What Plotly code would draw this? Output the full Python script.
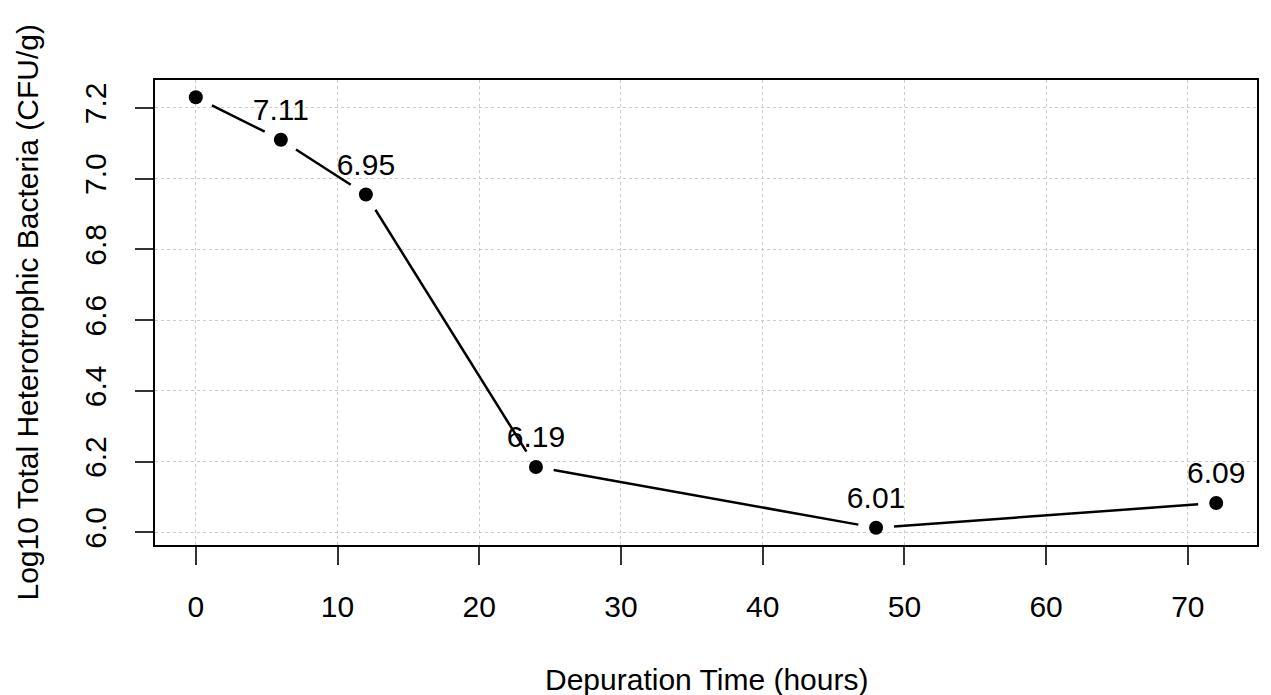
import plotly.graph_objects as go

# ---- data ----
hours = [0, 6, 12, 24, 48, 72]
log_cfu = [7.23, 7.11, 6.955, 6.185, 6.013, 6.083]
labels = ["7.23", "7.11", "6.95", "6.19", "6.01", "6.09"]
x_ticks = [0, 10, 20, 30, 40, 50, 60, 70]
y_ticks = [6.0, 6.2, 6.4, 6.6, 6.8, 7.0, 7.2]

# ---- layout geometry (page body has an 8px margin) ----
OFF = 8
W, H = 1271 - 2 * OFF, 695 - OFF
PL, PR, PT, PB = 155, 1257, 80, 545          # plot box in page pixels
ML, MR, MT, MB = PL - OFF, W - (PR - OFF), PT - OFF, H - (PB - OFF)
pw, ph = PR - PL, PB - PT

# R-style 4% axis extension
def ext(lo, hi):
    d = (hi - lo) * 0.04
    return [lo - d, hi + d]

xr = ext(min(hours), max(hours))
yr = ext(min(log_cfu), max(log_cfu))
sx = pw / (xr[1] - xr[0])
sy = ph / (yr[1] - yr[0])

# type="b" style: line segments with gaps around points
gap = 18
lx, ly = [], []
for i in range(len(hours) - 1):
    x0, y0, x1, y1 = hours[i], log_cfu[i], hours[i + 1], log_cfu[i + 1]
    dxp, dyp = (x1 - x0) * sx, (y1 - y0) * sy
    L = (dxp ** 2 + dyp ** 2) ** 0.5
    if L <= 2 * gap:
        continue
    f = gap / L
    lx += [x0 + (x1 - x0) * f, x1 - (x1 - x0) * f, None]
    ly += [y0 + (y1 - y0) * f, y1 - (y1 - y0) * f, None]

font = dict(family="Liberation Sans, Arial, sans-serif", size=30, color="black")

fig = go.Figure()
fig.add_trace(go.Scatter(x=lx, y=ly, mode="lines",
                         line=dict(color="black", width=2.5),
                         hoverinfo="skip", showlegend=False))
fig.add_trace(go.Scatter(x=hours, y=log_cfu, mode="markers",
                         marker=dict(color="black", size=14),
                         showlegend=False, cliponaxis=False))
fig.add_trace(go.Scatter(x=hours, y=log_cfu, mode="markers+text", text=labels,
                         marker=dict(size=18, color="rgba(0,0,0,0)"),
                         textposition="top center", textfont=font,
                         cliponaxis=True, showlegend=False, hoverinfo="skip"))

axis_common = dict(
    showline=True, linecolor="black", linewidth=1.8, mirror=True,
    ticks="outside", ticklen=18, tickwidth=1.8, tickcolor="#333333",
    showgrid=True, gridcolor="#cccccc", griddash="3px,3px", gridwidth=1,
    zeroline=False, tickfont=font,
)

fig.update_xaxes(range=xr, tickvals=x_ticks, ticklabelstandoff=16, **axis_common)
fig.update_yaxes(range=yr, tickvals=y_ticks, ticktext=[f"{v:.1f}" for v in y_ticks],
                 tickangle=-90, ticklabelstandoff=17, **axis_common)

fig.add_annotation(text="Depuration Time (hours)", xref="paper", yref="paper",
                   x=0.5, y=0, yshift=-(679 - PB), showarrow=False,
                   font=font, yanchor="middle", xanchor="center")
fig.add_annotation(text="Log10 Total Heterotrophic Bacteria (CFU/g)", xref="paper",
                   yref="paper", x=0, xshift=-(PL - 27), y=0.5, textangle=-90,
                   showarrow=False, font=font, xanchor="center", yanchor="middle")

fig.update_layout(
    width=W, height=H,
    margin=dict(l=ML, r=MR, t=MT, b=MB, autoexpand=False),
    plot_bgcolor="white", paper_bgcolor="white",
)

fig.write_html("out.html")
